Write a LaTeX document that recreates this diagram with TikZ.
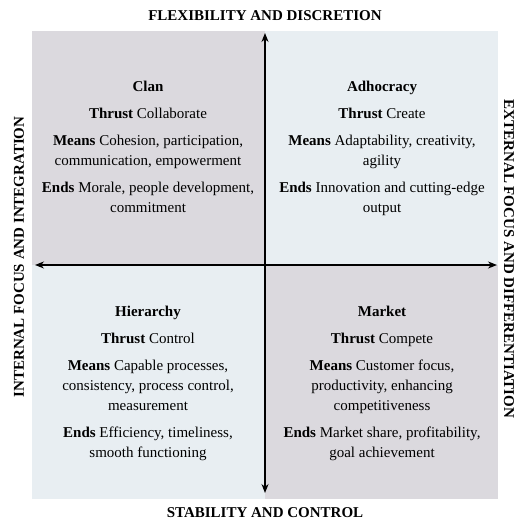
\documentclass[tikz,border=0pt]{standalone}
\usepackage{fontspec}
\setmainfont{Liberation Serif}
\usepackage{tikz}
\usetikzlibrary{positioning, arrows.meta}

\definecolor{quadgray}{RGB}{219,217,222}
\definecolor{quadblue}{RGB}{232,238,242}

\tikzset{
    quadtext/.style={align=center, anchor=north, inner sep=0pt,
        font=\fontsize{15}{20}\selectfont},
    axislabel/.style={font=\fontsize{15}{18}\selectfont\bfseries, inner sep=0pt},
    axis/.style={line width=1.3pt, {Stealth[length=9pt,width=7pt]}-{Stealth[length=9pt,width=7pt]}}
}

\begin{document}
\begin{tikzpicture}[x=1pt, y=1pt]
    \useasboundingbox (0,0) rectangle (515,521);

    % Quadrant backgrounds
    \fill[quadgray] (32,256) rectangle (265,490);
    \fill[quadblue] (265,256) rectangle (498,490);
    \fill[quadblue] (32,22) rectangle (265,256);
    \fill[quadgray] (265,22) rectangle (498,256);

    % Axis ends
    \coordinate (top) at (265,488);
    \coordinate (bottom) at (265,28);
    \coordinate (left) at (35,256);
    \coordinate (right) at (497,256);

    \draw[axis] (bottom) -- (top);
    \draw[axis] (left) -- (right);

    % Axis labels
    \node[axislabel] (flex) at (265,505) {FLEXIBILITY AND DISCRETION};
    \node[axislabel] (stab) at (265,8) {STABILITY AND CONTROL};
    \node[axislabel, rotate=90] (internal) at (19,264) {INTERNAL FOCUS AND INTEGRATION};
    \node[axislabel, rotate=-90] (external) at (509,262) {EXTERNAL FOCUS AND DIFFERENTIATION};

    % Quadrant texts
    \node[quadtext] (clan) at (148,440) {\textbf{Clan}\\[7pt]
        \textbf{Thrust} Collaborate\\[7pt]
        \textbf{Means} Cohesion, participation,\\
        communication, empowerment\\[7pt]
        \textbf{Ends} Morale, people development,\\
        commitment};
    \node[quadtext] (adhocracy) at (382,440) {\textbf{Adhocracy}\\[7pt]
        \textbf{Thrust} Create\\[7pt]
        \textbf{Means} Adaptability, creativity,\\
        agility\\[7pt]
        \textbf{Ends} Innovation and cutting-edge\\
        output};
    \node[quadtext] (hierarchy) at (148,215) {\textbf{Hierarchy}\\[7pt]
        \textbf{Thrust} Control\\[7pt]
        \textbf{Means} Capable processes,\\
        consistency, process control,\\
        measurement\\[7pt]
        \textbf{Ends} Efficiency, timeliness,\\
        smooth functioning};
    \node[quadtext] (market) at (382,215) {\textbf{Market}\\[7pt]
        \textbf{Thrust} Compete\\[7pt]
        \textbf{Means} Customer focus,\\
        productivity, enhancing\\
        competitiveness\\[7pt]
        \textbf{Ends} Market share, profitability,\\
        goal achievement};
\end{tikzpicture}
\end{document}
